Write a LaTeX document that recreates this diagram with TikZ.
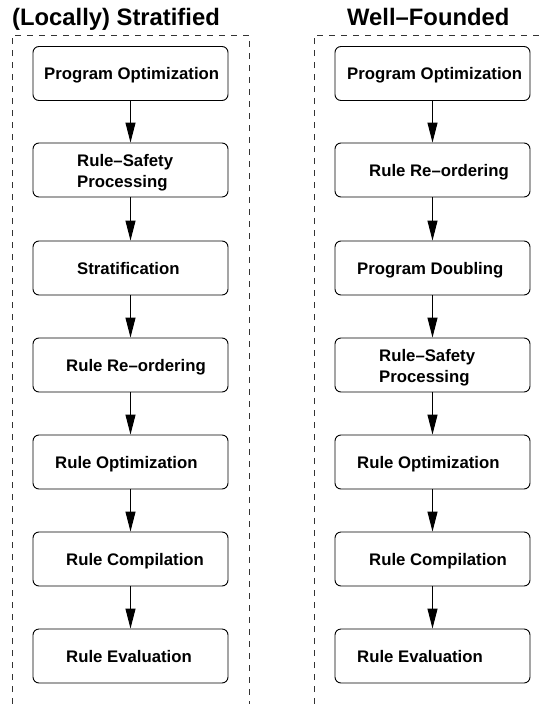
\documentclass[tikz,border=0pt]{standalone}
\usepackage{fontspec}
\setmainfont{Liberation Sans}
\usetikzlibrary{arrows.meta}
\begin{document}
\begin{tikzpicture}[x=1pt,y=-1pt,
  stepbox/.style={draw,line width=0.9pt,rounded corners=6pt,minimum width=195pt,minimum height=54pt,inner sep=0pt},
  lbl/.style={anchor=base west,inner sep=0pt,font=\fontsize{16.75}{21}\selectfont\bfseries},
  ttl/.style={anchor=base west,inner sep=0pt,font=\fontsize{23.8}{28}\selectfont\bfseries},
  flow/.style={line width=1pt,-{Triangle[length=20pt,width=10pt]}},
  frame/.style={line width=0.8pt,dash pattern=on 6pt off 6pt,black!80}]
\useasboundingbox (0,0) rectangle (544,704);
% titles
\node[ttl] (t1) at (12,25) {(Locally) Stratified};
\node[ttl] (t2) at (347,25) {Well–Founded};
% frames
\coordinate (fa) at (12,704);
\coordinate (fb) at (12,35);
\coordinate (fc) at (249,35);
\coordinate (fd) at (249,704);
\coordinate (ga) at (314,704);
\coordinate (gb) at (314,35);
\coordinate (gc) at (544,35);
\draw[frame] (fa) -- (fb) -- (fc) -- (fd);
\draw[frame] (ga) -- (gb) -- (gc);
% left boxes
\node[stepbox] (a1) at (130.5,73.5) {};
\node[stepbox] (a2) at (130.5,170) {};
\node[stepbox] (a3) at (130.5,268) {};
\node[stepbox] (a4) at (130.5,365) {};
\node[stepbox] (a5) at (130.5,462) {};
\node[stepbox] (a6) at (130.5,559) {};
\node[stepbox] (a7) at (130.5,656) {};
% right boxes
\node[stepbox] (b1) at (432.5,73.5) {};
\node[stepbox] (b2) at (432.5,170) {};
\node[stepbox] (b3) at (432.5,268) {};
\node[stepbox] (b4) at (432.5,365) {};
\node[stepbox] (b5) at (432.5,462) {};
\node[stepbox] (b6) at (432.5,559) {};
\node[stepbox] (b7) at (432.5,656) {};
% left labels
\node[lbl] (la1) at (44,79.5) {Program Optimization};
\node[lbl] (la2a) at (77,166) {Rule–Safety};
\node[lbl] (la2b) at (77,187) {Processing};
\node[lbl] (la3) at (77,274) {Stratification};
\node[lbl] (la4) at (66,371) {Rule Re–ordering};
\node[lbl] (la5) at (55,468) {Rule Optimization};
\node[lbl] (la6) at (66,565) {Rule Compilation};
\node[lbl] (la7) at (66,662) {Rule Evaluation};
% right labels
\node[lbl] (lb1) at (347,79.5) {Program Optimization};
\node[lbl] (lb2) at (369,176) {Rule Re–ordering};
\node[lbl] (lb3) at (357,274) {Program Doubling};
\node[lbl] (lb4a) at (379,361) {Rule–Safety};
\node[lbl] (lb4b) at (379,382) {Processing};
\node[lbl] (lb5) at (357,468) {Rule Optimization};
\node[lbl] (lb6) at (369,565) {Rule Compilation};
\node[lbl] (lb7) at (357,662) {Rule Evaluation};
% arrows
\foreach \i/\j in {1/2,2/3,3/4,4/5,5/6,6/7}{
  \draw[flow] (a\i.south) -- (a\j.north);
  \draw[flow] (b\i.south) -- (b\j.north);
}
\end{tikzpicture}
\end{document}
